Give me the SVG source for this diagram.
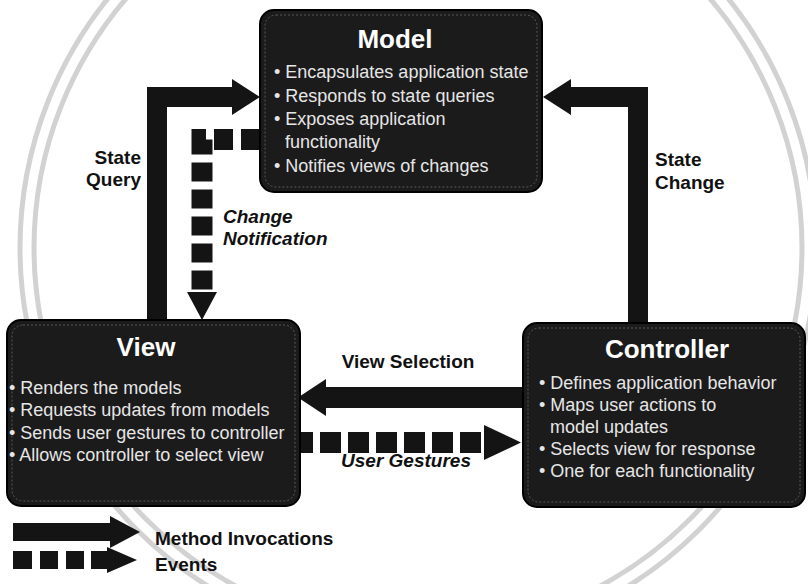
<svg xmlns="http://www.w3.org/2000/svg" width="808" height="584" viewBox="0 0 808 584">
  <style>
    .box { fill: #1b1b1b; stroke: #000; stroke-width: 2; }
    .inner { fill: none; stroke: #5a5a5a; stroke-width: 1; stroke-dasharray: 2 2; }
    .title { font-family: "Liberation Sans", Arial, sans-serif; font-weight: bold; font-size: 26px; fill: #ffffff; }
    .item { font-family: "Liberation Sans", Arial, sans-serif; font-size: 18px; fill: #e6e6e6; }
    .lbl { font-family: "Liberation Sans", Arial, sans-serif; font-weight: bold; font-size: 19px; fill: #111; }
    .lbli { font-family: "Liberation Sans", Arial, sans-serif; font-weight: bold; font-style: italic; font-size: 19px; fill: #111; }
    .solid { fill: #141414; }
    .dash { fill: none; stroke: #141414; stroke-width: 21; }
    .ring { fill: none; stroke: #d2d2d2; stroke-width: 5; }
  </style>
  <rect x="0" y="0" width="808" height="584" fill="#ffffff"/>

  <g id="watermark">
    <circle class="ring" cx="418" cy="248" r="398"/>
    <circle class="ring" cx="418" cy="248" r="384"/>
  </g>

  <g id="connectors">
    <!-- State Query: View -> Model -->
    <path id="state-query" class="solid" d="M147,321 L147,87 L232,87 L232,79 L260,97 L232,115 L232,107 L167,107 L167,321 Z"/>
    <!-- State Change: Controller -> Model -->
    <path id="state-change" class="solid" d="M648,323 L648,87 L571,87 L571,79 L543,97 L571,115 L571,107 L628,107 L628,323 Z"/>
    <!-- Change Notification: Model -> View (events) -->
    <g id="change-notification">
      <path class="dash" d="M260,139.5 H202 V291" stroke-dasharray="19 8"/>
      <polygon class="solid" points="187,292 217,292 202,320"/>
    </g>
    <!-- View Selection: Controller -> View -->
    <path id="view-selection" class="solid" d="M523,387 H326 V379 L298,397.5 L326,416 V408 H523 Z"/>
    <!-- User Gestures: View -> Controller (events) -->
    <g id="user-gestures">
      <path class="dash" d="M292,442.5 H484" stroke-dasharray="21 7"/>
      <polygon class="solid" points="484,425 521,442.5 484,460"/>
    </g>
    <text class="lbl" x="141" y="164" text-anchor="end">State</text>
    <text class="lbl" x="141" y="186" text-anchor="end">Query</text>
    <text class="lbl" x="655" y="166">State</text>
    <text class="lbl" x="655" y="189">Change</text>
    <text class="lbli" x="223" y="223">Change</text>
    <text class="lbli" x="223" y="245">Notification</text>
    <text class="lbl" x="408" y="368" text-anchor="middle">View Selection</text>
    <text class="lbli" x="406" y="467" text-anchor="middle">User Gestures</text>
  </g>

  <g id="model">
    <rect class="box" x="260" y="10" width="282" height="182" rx="14"/>
    <rect class="inner" x="265" y="15" width="272" height="172" rx="11"/>
    <text class="title" x="395" y="48" text-anchor="middle">Model</text>
    <text class="item" x="274" y="78">• Encapsulates application state</text>
    <text class="item" x="274" y="102">• Responds to state queries</text>
    <text class="item" x="274" y="125">• Exposes application</text>
    <text class="item" x="285" y="148">functionality</text>
    <text class="item" x="274" y="172">• Notifies views of changes</text>
  </g>

  <g id="view">
    <rect class="box" x="7" y="320" width="293" height="186" rx="14"/>
    <rect class="inner" x="12" y="325" width="283" height="176" rx="11"/>
    <text class="title" x="146" y="356" text-anchor="middle">View</text>
    <text class="item" x="9" y="394">• Renders the models</text>
    <text class="item" x="9" y="416">• Requests updates from models</text>
    <text class="item" x="9" y="439">• Sends user gestures to controller</text>
    <text class="item" x="9" y="461">• Allows controller to select view</text>
  </g>

  <g id="controller">
    <rect class="box" x="523" y="323" width="282" height="184" rx="14"/>
    <rect class="inner" x="528" y="328" width="272" height="174" rx="11"/>
    <text class="title" x="667" y="358" text-anchor="middle">Controller</text>
    <text class="item" x="539" y="389">• Defines application behavior</text>
    <text class="item" x="539" y="411">• Maps user actions to</text>
    <text class="item" x="550" y="433">model updates</text>
    <text class="item" x="539" y="455">• Selects view for response</text>
    <text class="item" x="539" y="477">• One for each functionality</text>
  </g>

  <g id="legend">
    <path class="solid" d="M13,523 H110 V516 L140,532 L110,548 V541 H13 Z"/>
    <rect class="solid" x="13" y="551" width="19" height="18"/>
    <rect class="solid" x="40" y="551" width="18" height="18"/>
    <rect class="solid" x="66" y="551" width="18" height="18"/>
    <rect class="solid" x="91" y="551" width="16" height="18"/>
    <polygon class="solid" points="107,547 137,560 107,573"/>
    <text class="lbl" x="155" y="545">Method Invocations</text>
    <text class="lbl" x="155" y="571">Events</text>
  </g>
</svg>
